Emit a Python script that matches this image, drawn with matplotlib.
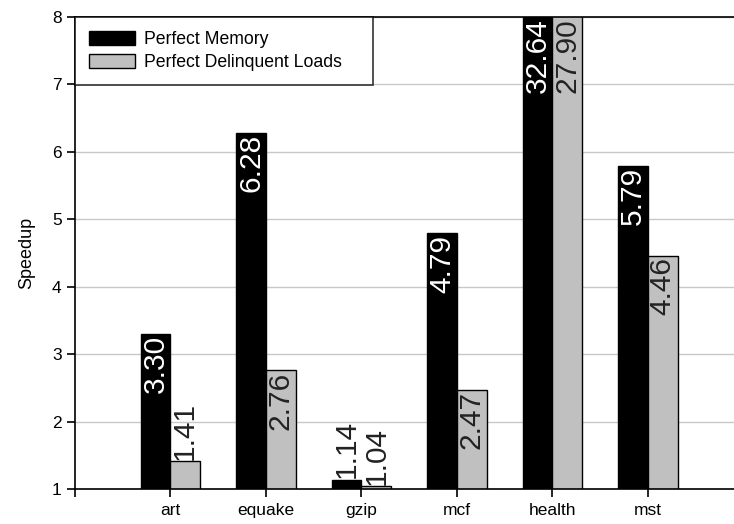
"""
Speedup bar chart: perfect memory vs perfect delinquent loads.
"""

import numpy as np
import matplotlib.pyplot as plt
from matplotlib.patches import Patch

plt.rcParams["font.family"] = ["Liberation Sans", "DejaVu Sans"]

benchmarks = ["art", "equake", "gzip", "mcf", "health", "mst"]
perfect_memory = [3.30, 6.28, 1.14, 4.79, 32.64, 5.79]
perfect_delinquent = [1.41, 2.76, 1.04, 2.47, 27.90, 4.46]

YMIN, YMAX = 1, 8
W = 0.31

fig = plt.figure(figsize=(7.34, 5.24), dpi=100)
ax = fig.add_axes([0.102, 0.0668, 0.898, 0.9008])

x = np.arange(1, len(benchmarks) + 1)
ax.bar(x - W / 2, perfect_memory, W, bottom=0, color="black",
       edgecolor="black", linewidth=1, zorder=2)
ax.bar(x + W / 2, perfect_delinquent, W, bottom=0, color="#c0c0c0",
       edgecolor="black", linewidth=1, zorder=2)

ax.set_xlim(0, 6.9)
ax.set_ylim(YMIN, YMAX)

# value labels, rotated; inside the bar when there is room
for xs, vals, inside_col in [(x - W / 2, perfect_memory, "white"),
                             (x + W / 2, perfect_delinquent, "#222222")]:
    for xi, v in zip(xs, vals):
        top = min(v, YMAX)
        if v >= 2:
            ax.text(xi, top - 0.02, f"{v:.2f}", rotation=90, ha="center",
                    va="top", fontsize=21.5, color=inside_col, zorder=3)
        else:
            ax.text(xi, top + 0.02, f"{v:.2f}", rotation=90, ha="center",
                    va="bottom", fontsize=21.5, color="#222222", zorder=3)

# axes styling
ax.yaxis.grid(True, color="#c8c8c8", linewidth=1, zorder=0)
ax.set_axisbelow(True)
ax.spines["right"].set_visible(False)
for s in ["top", "bottom", "left"]:
    ax.spines[s].set_color("black")
    ax.spines[s].set_linewidth(1.2)

ax.set_yticks(range(YMIN, YMAX + 1))
ax.set_xticks(range(0, len(benchmarks) + 1))
ax.set_xticklabels([""] + benchmarks)
ax.tick_params(axis="both", direction="out", length=6, width=1.2,
               labelsize=12.5, colors="black")
ax.tick_params(axis="x", pad=4)
ax.set_ylabel("Speedup", fontsize=13, labelpad=12)

handles = [Patch(facecolor="black", edgecolor="black", label="Perfect Memory"),
           Patch(facecolor="#c0c0c0", edgecolor="black",
                 label="Perfect Delinquent Loads")]
leg = ax.legend(handles=handles, loc="upper left",
                bbox_to_anchor=(0, 0, 0.452, 1), mode="expand",
                fontsize=12.7, frameon=True, fancybox=False, borderpad=0.8,
                handlelength=2.6, handleheight=0.8, handletextpad=0.5,
                labelspacing=0.35, borderaxespad=0)
leg.get_frame().set_edgecolor("black")
leg.get_frame().set_linewidth(1.2)

fig.savefig("out.png", dpi=100, facecolor="white")
